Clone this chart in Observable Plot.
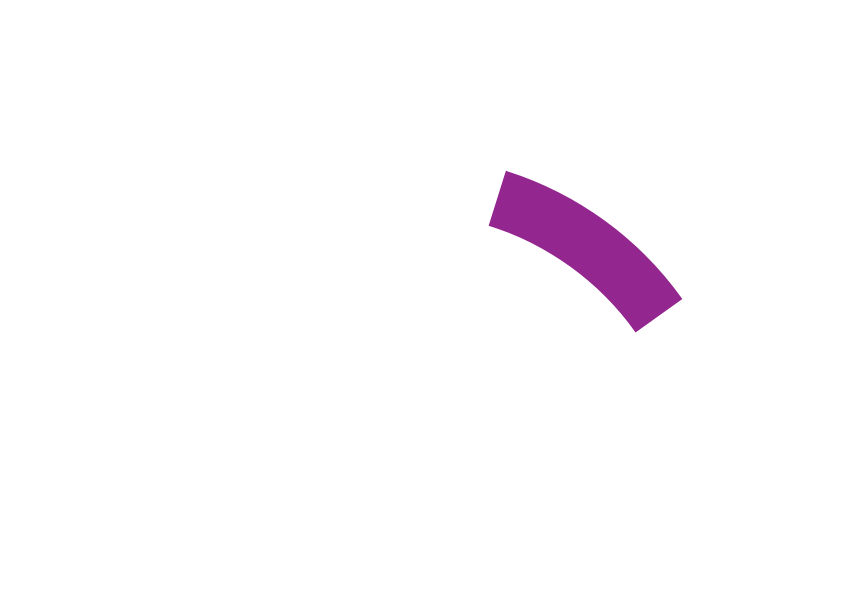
<!DOCTYPE html>
<html>
<head>
<meta charset="utf-8">
<script src="https://cdn.jsdelivr.net/npm/d3@7"></script>
<script src="https://cdn.jsdelivr.net/npm/@observablehq/plot@0.6"></script>
<style>
  html, body { margin: 0; padding: 0; background: #ffffff; overflow: hidden; }
  #chart svg { display: block; }
</style>
</head>
<body>
<div id="chart"></div>
<script>
// Gauge data (values on a 0–100 dial spanning a half circle)
const bands = ["Band"];
const bandFrom = [59.7];
const bandTo = [80.3];
const dialDomain = [0, 100];

const bandColors = ["#93278f"];

const data = bands.map((b, i) => ({ band: b, from: bandFrom[i], to: bandTo[i] }));

const W = 842, H = 595;

// Angle scale from Observable Plot
let angle;
try {
  const s = Plot.scale({ x: { type: "linear", domain: dialDomain, range: [-Math.PI / 2, Math.PI / 2] } });
  angle = (v) => s.apply(v);
} catch (e) {
  const s = d3.scaleLinear(dialDomain, [-Math.PI / 2, Math.PI / 2]);
  angle = s;
}

function gaugeMark(rows) {
  return (index, scales, values, dimensions) => {
    const { width, height } = dimensions;
    const cx = width * 0.4786, cy = height * 0.837;
    const outer = 343, inner = 285.5;
    const arc = d3.arc().innerRadius(inner).outerRadius(outer);
    const g = d3.create("svg:g").attr("transform", `translate(${cx},${cy})`);
    g.selectAll("path")
      .data(rows)
      .join("path")
      .attr("fill", (d, i) => bandColors[i % bandColors.length])
      .attr("d", (d) => arc({ startAngle: angle(d.from), endAngle: angle(d.to) }));
    return g.node();
  };
}

const chart = Plot.plot({
  width: W,
  height: H,
  margin: 0,
  style: { background: "#ffffff" },
  marks: [gaugeMark(data)]
});

document.getElementById("chart").append(chart);
</script>
</body>
</html>
